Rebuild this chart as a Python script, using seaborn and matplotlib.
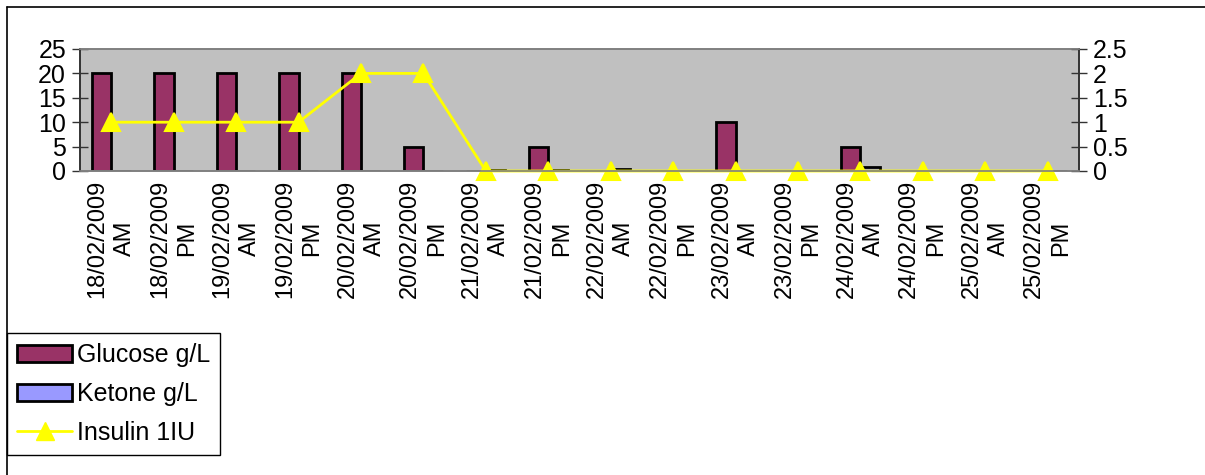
import matplotlib
matplotlib.use("Agg")
import matplotlib.pyplot as plt
from matplotlib.lines import Line2D
from matplotlib.patches import Patch
from matplotlib.ticker import FixedLocator
import seaborn as sns
import pandas as pd

dates = ['18/02/2009', '18/02/2009', '19/02/2009', '19/02/2009', '20/02/2009', '20/02/2009',
         '21/02/2009', '21/02/2009', '22/02/2009', '22/02/2009', '23/02/2009', '23/02/2009',
         '24/02/2009', '24/02/2009', '25/02/2009', '25/02/2009']
periods = ['AM', 'PM'] * 8
glucose = [20, 20, 20, 20, 20, 5, 0, 5, 0, 0, 10, 0, 5, 0, 0, 0]
ketone = [0, 0, 0, 0, 0, 0, 0.2, 0.2, 0.4, 0, 0, 0, 0.8, 0, 0, 0]
insulin = [1, 1, 1, 1, 2, 2, 0, 0, 0, 0, 0, 0, 0, 0, 0, 0]

labels = [f'{d}\n{p}' for d, p in zip(dates, periods)]

df = pd.DataFrame({'slot': labels * 2,
                   'value': glucose + ketone,
                   'series': ['Glucose g/L'] * len(labels) + ['Ketone g/L'] * len(labels)})

sns.set_style('white')
plt.rcParams['font.family'] = ['Liberation Sans', 'DejaVu Sans']
plt.rcParams['text.color'] = 'black'
plt.rcParams['xtick.color'] = 'black'
plt.rcParams['ytick.color'] = 'black'
plt.rcParams['xtick.labelcolor'] = 'black'
plt.rcParams['ytick.labelcolor'] = 'black'

fig = plt.figure(figsize=(12.05, 4.75), dpi=100)
ax = fig.add_axes([80 / 1205, 1 - 171 / 475, (1079 - 80) / 1205, (171 - 49) / 475])
ax.set_facecolor('#C0C0C0')

sns.barplot(data=df, x='slot', y='value', hue='series', order=labels,
            palette={'Glucose g/L': '#993366', 'Ketone g/L': '#9999FF'}, saturation=1,
            width=0.62, edgecolor='black', linewidth=2, ax=ax, legend=False)

ax2 = ax.twinx()
sns.pointplot(x=labels, y=insulin, order=labels, color='#FFFF00', markers='^',
              markersize=13, linewidth=2, ax=ax2)
for ln in ax2.lines:
    ln.set_clip_on(False)
for c in ax2.collections:
    c.set_clip_on(False)

n = len(labels)
ax.set_xlim(-0.5, n - 0.5)
ax.set_ylim(0, 25)
ax2.set_ylim(0, 2.5)
ax.set_yticks([0, 5, 10, 15, 20, 25])
ax2.set_yticks([0, 0.5, 1, 1.5, 2, 2.5])
ax2.set_yticklabels(['0', '0.5', '1', '1.5', '2', '2.5'])
ax.set_xlabel('')
ax.set_ylabel('')
ax2.set_xlabel('')
ax2.set_ylabel('')

ax.set_xticks(range(n))
ax.set_xticklabels(labels, rotation=90, ha='center', va='top', fontsize=17, linespacing=1.3)
ax.xaxis.set_minor_locator(FixedLocator([i - 0.5 for i in range(n + 1)]))
ax.tick_params(axis='x', which='major', length=0, pad=6)
ax.tick_params(axis='x', which='minor', length=6, width=1, color='#333333', direction='out')
ax.tick_params(axis='y', direction='inout', length=12, width=1, color='#333333', labelsize=18, pad=4, left=True)
ax2.tick_params(axis='y', direction='inout', length=12, width=1, color='#333333', labelsize=18, pad=4, right=True)

for a in (ax, ax2):
    a.spines['top'].set_color('#808080')
    a.spines['bottom'].set_color('#808080')
    a.spines['left'].set_color('#333333')
    a.spines['right'].set_color('#333333')
    for s in a.spines.values():
        s.set_linewidth(1.2)

handles = [Patch(facecolor='#993366', edgecolor='black', linewidth=2, label='Glucose g/L'),
           Patch(facecolor='#9999FF', edgecolor='black', linewidth=2, label='Ketone g/L'),
           Line2D([], [], color='#FFFF00', lw=2, marker='^', markersize=13, label='Insulin 1IU')]
leg = fig.legend(handles=handles, loc='upper left', bbox_to_anchor=(7 / 1205, 1 - 333 / 475),
                 fontsize=18, frameon=True, fancybox=False, edgecolor='black', framealpha=1,
                 handlelength=2.2, handleheight=0.65, handletextpad=0.2, labelspacing=0.6,
                 borderpad=0.4, borderaxespad=0)
leg.get_frame().set_linewidth(1)
for t in leg.get_texts():
    t.set_color('black')

fig.add_artist(Line2D([7 / 1205, 1], [1 - 7 / 475, 1 - 7 / 475], color='black', lw=1.2))
fig.add_artist(Line2D([7 / 1205, 7 / 1205], [0, 1 - 7 / 475], color='black', lw=1.2))

fig.savefig('out.png', dpi=100, facecolor='white')
